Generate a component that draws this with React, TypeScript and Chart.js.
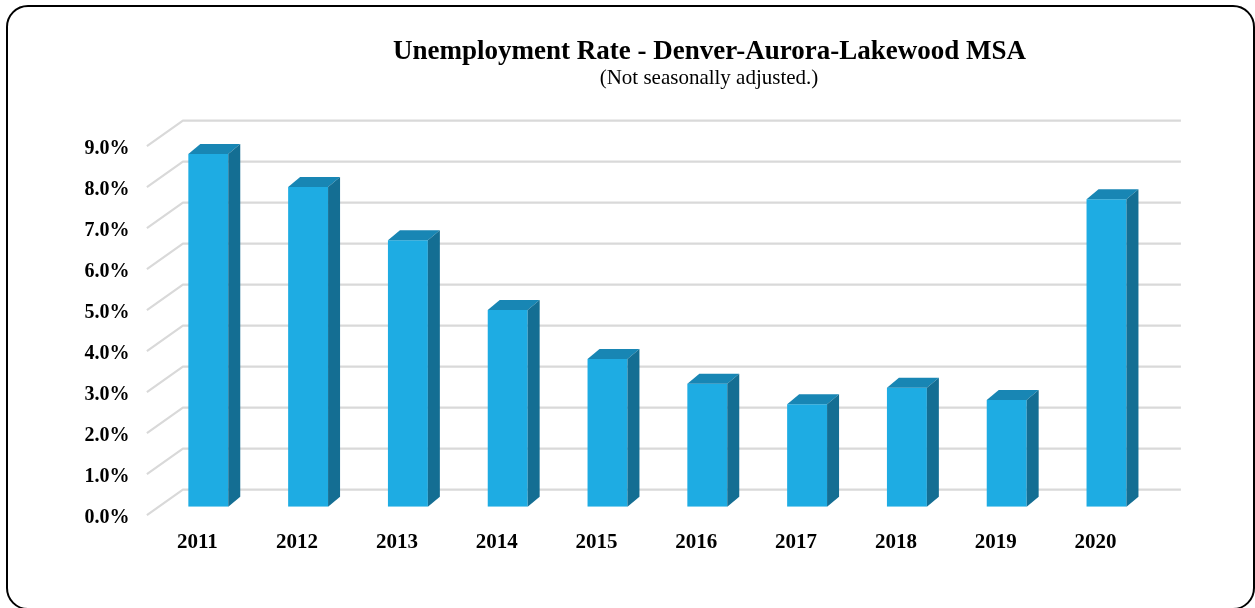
import React, { useEffect, useRef } from "react";
import { Chart, registerables } from "chart.js";

Chart.register(...registerables);

const categories = ["2011", "2012", "2013", "2014", "2015", "2016", "2017", "2018", "2019", "2020"];
const rates = [8.6, 7.8, 6.5, 4.8, 3.6, 3.0, 2.5, 2.9, 2.6, 7.5];
const yMin = 0;
const yMax = 9;
const yStep = 1;

const titleText = "Unemployment Rate - Denver-Aurora-Lakewood MSA";
const subtitleText = "(Not seasonally adjusted.)";

const FONT = "'Liberation Serif', 'Times New Roman', serif";
const FRONT = "#1EACE3";
const TOP = "#1886B4";
const SIDE = "#146E93";
const GRID = "#D9D9D9";

const threeD = {
  id: "threeD",
  beforeDatasetsDraw(chart: any) {
    const ctx = chart.ctx;
    const ys = chart.scales.y;
    const { left, right } = chart.chartArea;
    ctx.save();
    ctx.strokeStyle = GRID;
    ctx.lineWidth = 2.2;
    ctx.lineJoin = "round";
    for (let v = yMin; v <= yMax; v += yStep) {
      const p = ys.getPixelForValue(v);
      ctx.beginPath();
      ctx.moveTo(left - 11.5, p + 8.5);
      ctx.lineTo(left + 24.5, p - 17);
      ctx.lineTo(right + 24.5, p - 17);
      ctx.stroke();
    }
    ctx.restore();
  },
  afterDatasetsDraw(chart: any) {
    const ctx = chart.ctx;
    const meta = chart.getDatasetMeta(0);
    const dx = 12;
    const dy = 10;
    ctx.save();
    meta.data.forEach((bar: any) => {
      const { x, y, base, width } = bar.getProps(["x", "y", "base", "width"], true);
      const l = x - width / 2;
      const r = x + width / 2;
      ctx.fillStyle = TOP;
      ctx.beginPath();
      ctx.moveTo(l, y);
      ctx.lineTo(l + dx, y - dy);
      ctx.lineTo(r + dx, y - dy);
      ctx.lineTo(r, y);
      ctx.closePath();
      ctx.fill();
      ctx.fillStyle = SIDE;
      ctx.beginPath();
      ctx.moveTo(r, y);
      ctx.lineTo(r + dx, y - dy);
      ctx.lineTo(r + dx, base - dy);
      ctx.lineTo(r, base);
      ctx.closePath();
      ctx.fill();
    });
    ctx.restore();
  },
};

export default function App() {
  const ref = useRef<HTMLCanvasElement | null>(null);

  useEffect(() => {
    if (!ref.current) return;
    const chart = new Chart(ref.current, {
      type: "bar",
      data: {
        labels: categories,
        datasets: [
          {
            data: rates,
            backgroundColor: FRONT,
            borderWidth: 0,
            barPercentage: 0.4,
            categoryPercentage: 1,
          },
        ],
      },
      options: {
        responsive: false,
        animation: false,
        devicePixelRatio: 1,
        layout: { padding: { top: 137.7, right: 98.6, bottom: 0, left: 0 } },
        plugins: {
          legend: { display: false },
          tooltip: { enabled: false },
          title: { display: false },
        },
        scales: {
          x: {
            grid: { display: false, drawTicks: false },
            border: { display: false },
            ticks: {
              font: { family: FONT, weight: "bold", size: 21 },
              color: "#000",
              padding: 23,
              labelOffset: -11,
              maxRotation: 0,
              autoSkip: false,
            },
            afterFit: (s: any) => {
              s.height = 101.3;
              s.paddingLeft = 0;
              s.paddingRight = 0;
            },
          },
          y: {
            min: yMin,
            max: yMax,
            grid: { display: false, drawTicks: false },
            border: { display: false },
            ticks: {
              stepSize: yStep,
              callback: (v: any) => Number(v).toFixed(1) + "%",
              font: { family: FONT, weight: "bold", size: 20 },
              color: "#000",
              padding: 29,
              labelOffset: 11.5,
            },
            afterFit: (s: any) => {
              s.width = 158.4;
              s.paddingTop = 0;
              s.paddingBottom = 0;
            },
          },
        },
      } as any,
      plugins: [threeD],
    });
    return () => chart.destroy();
  }, []);

  return (
    <div style={{ position: "fixed", left: 0, top: 0, width: 1255, height: 608, background: "#fff", overflow: "hidden" }}>
      <canvas ref={ref} width={1255} height={608} style={{ position: "absolute", left: 0, top: 0 }} />
      <div
        style={{
          position: "absolute",
          left: 709.5,
          top: 37,
          transform: "translateX(-50%)",
          fontFamily: FONT,
          fontWeight: "bold",
          fontSize: 27,
          lineHeight: "27px",
          whiteSpace: "pre",
          color: "#000",
        }}
      >
        {titleText}
      </div>
      <div
        style={{
          position: "absolute",
          left: 709,
          top: 67,
          transform: "translateX(-50%)",
          fontFamily: FONT,
          fontSize: 21,
          lineHeight: "21px",
          whiteSpace: "nowrap",
          color: "#000",
        }}
      >
        {subtitleText}
      </div>
      <div
        style={{
          position: "absolute",
          left: 6,
          top: 5,
          width: 1249,
          height: 605,
          border: "2px solid #000",
          borderRadius: 22,
          boxSizing: "border-box",
          pointerEvents: "none",
        }}
      />
    </div>
  );
}
